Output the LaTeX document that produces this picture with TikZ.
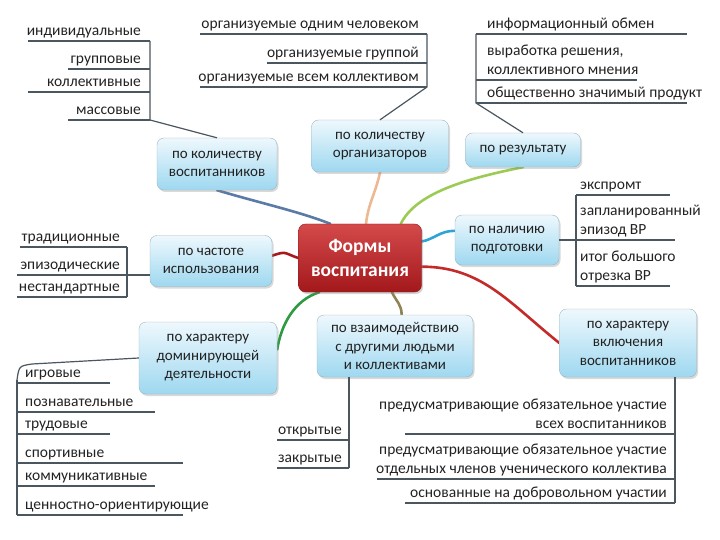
\documentclass[tikz,border=0pt]{standalone}
\usepackage{fontspec}
\setmainfont{Carlito}
\usetikzlibrary{shadows}
\pgfdeclarelayer{bg}
\pgfsetlayers{bg,main}

\definecolor{boxtop}{HTML}{EEF8FD}
\definecolor{boxbot}{HTML}{9ED8F0}
\definecolor{boxline}{HTML}{9DB4C0}
\definecolor{hubtop}{HTML}{D4494A}
\definecolor{hubbot}{HTML}{A3181B}
\definecolor{hubline}{HTML}{8A1A1A}
\definecolor{ruleline}{HTML}{4A5660}
\definecolor{txt}{HTML}{222222}
\definecolor{steel}{HTML}{5A7BA6}
\definecolor{peach}{HTML}{EDB894}
\definecolor{lgreen}{HTML}{9CCB55}
\definecolor{sky}{HTML}{2FA3D6}
\definecolor{dkred}{HTML}{A8191B}
\definecolor{brred}{HTML}{C42A2A}
\definecolor{olive}{HTML}{8F8456}
\definecolor{dgreen}{HTML}{2E9B43}

\newcommand\boxfont{\fontsize{15}{18.5}\selectfont}
\newcommand\itemfont{\fontsize{15.5}{19}\selectfont}
\newcommand\hubfont{\fontsize{19.5}{24}\selectfont\bfseries}

\begin{document}
\begin{tikzpicture}[x=1pt,y=-1pt,
    catbox/.style={draw=boxline, rounded corners=7pt, top color=boxtop,
        bottom color=boxbot, align=center, text=txt, font=\boxfont, inner sep=2pt,
        drop shadow={shadow xshift=1.5pt, shadow yshift=-2pt, opacity=.3}},
    hubbox/.style={draw=hubline, rounded corners=7pt, top color=hubtop,
        bottom color=hubbot, align=center, text=white, font=\hubfont, inner sep=2pt,
        drop shadow={shadow xshift=1.5pt, shadow yshift=-2pt, opacity=.35}},
    entry/.style={inner sep=0pt, text=txt, font=\itemfont, text depth=4pt},
    rule/.style={draw=ruleline, line width=1.2pt},
    branch/.style={line width=2.6pt, line cap=round}]
    \useasboundingbox (0,0) rectangle (720,540);

    % category boxes
    \draw (360,258) node (hub) [hubbox,minimum width=123,minimum height=68] {Формы\\воспитания};
    \draw (217,164) node (vosp) [catbox,minimum width=120,minimum height=52] {по количеству\\воспитанников};
    \draw (380,146) node (org) [catbox,minimum width=137,minimum height=52] {по количеству\\организаторов};
    \draw (523,150) node (res) [catbox,minimum width=115,minimum height=34] {по результату};
    \draw (507,240) node (prep) [catbox,minimum width=104,minimum height=50] {по наличию\\подготовки};
    \draw (628,343) node (incl) [catbox,minimum width=137,minimum height=68] {по характеру\\включения\\воспитанников};
    \draw (395,346) node (inter) [catbox,minimum width=156,minimum height=62] {по взаимодействию\\с другими людьми\\и коллективами};
    \draw (211,261) node (freq) [catbox,minimum width=122,minimum height=51] {по частоте\\использования};
    \draw (208,358) node (dom) [catbox,minimum width=138,minimum height=72] {по характеру\\доминирующей\\деятельности};

    % coloured branches from the hub
    \begin{pgfonlayer}{bg}
    \draw[branch,steel] (vosp.south) .. controls +(40,12) and +(-30,-12) .. (hub.131);
    \draw[branch,peach] (org.south) .. controls +(-4,20) and +(2,-20) .. (hub.80);
    \draw[branch,lgreen] (res.south) .. controls +(-60,12) and +(15,-30) .. (hub.40);
    \draw[branch,sky] (hub.15) .. controls +(12,-2) and +(-15,0) .. (prep.170);
    \draw[branch,dkred] (freq.5) .. controls +(15,-5) and +(-15,-5) .. (hub.west);
    \draw[branch,brred] (hub.-8) .. controls +(60,0) and +(-50,-40) .. (incl.west);
    \draw[branch,olive] (hub.-47) .. controls +(5,10) and +(0,-10) .. (inter.78);
    \draw[branch,dgreen] (hub.220) .. controls +(-25,8) and +(4,-25) .. (dom.7);
    \end{pgfonlayer}

    % по количеству воспитанников
    \draw (141,40) node (a1) [entry,anchor=south east] {индивидуальные};
    \draw (141,68) node (a2) [entry,anchor=south east] {групповые};
    \draw (141,91) node (a3) [entry,anchor=south east] {коллективные};
    \draw (141,119) node (a4) [entry,anchor=south east] {массовые};
    \coordinate (a0) at (150,120);
    \draw[rule] (28,41) -- (150,41) (68,69) -- (150,69) (28,92) -- (150,92) (68,120) -- (a0);
    \draw[rule] (150,41) -- (a0) -- (vosp.north);

    % по количеству организаторов
    \draw (419,33) node (b1) [entry,anchor=south east] {организуемые одним человеком};
    \draw (419,62) node (b2) [entry,anchor=south east] {организуемые группой};
    \draw (419,86) node (b3) [entry,anchor=south east] {организуемые всем коллективом};
    \coordinate (b0) at (427,87);
    \draw[rule] (200,34) -- (427,34) (267,63) -- (427,63) (200,87) -- (b0);
    \draw[rule] (427,34) -- (b0) -- (org.north);

    % по результату
    \draw (487,33) node (c1) [entry,anchor=south west] {информационный обмен};
    \draw (487,79) node (c2) [entry,anchor=south west,align=left] {выработка решения,\\коллективного мнения};
    \draw (487,102) node (c3) [entry,anchor=south west] {общественно значимый продукт};
    \coordinate (c0) at (476,103);
    \draw[rule] (476,34) -- (687,34) (476,80) -- (637,80) (c0) -- (687,103);
    \draw[rule] (476,34) -- (c0) -- (res.north);

    % по наличию подготовки
    \draw (580,194) node (d1) [entry,anchor=south west] {экспромт};
    \draw (580,239) node (d2) [entry,anchor=south west,align=left] {запланированный\\эпизод ВР};
    \draw (580,285) node (d3) [entry,anchor=south west,align=left] {итог большого\\отрезка ВР};
    \coordinate (d0) at (576,240);
    \draw[rule] (576,195) -- (670,195) (d0) -- (675,240) (576,286) -- (670,286);
    \draw[rule] (576,195) -- (576,286) (prep.east) -- (d0);

    % по характеру включения воспитанников
    \draw (667,433) node (e1) [entry,anchor=south east,align=right] {предусматривающие обязательное участие\\всех воспитанников};
    \draw (667,478) node (e2) [entry,anchor=south east,align=right] {предусматривающие обязательное участие\\отдельных членов ученического коллектива};
    \draw (667,502) node (e3) [entry,anchor=south east] {основанные на добровольном участии};
    \coordinate (e0) at (675,503);
    \draw[rule] (405,434) -- (675,434) (377,479) -- (675,479) (405,503) -- (e0);
    \draw[rule] (incl.south -| e0) -- (e0);

    % по взаимодействию
    \draw (342,439) node (f1) [entry,anchor=south east] {открытые};
    \draw (342,467) node (f2) [entry,anchor=south east] {закрытые};
    \coordinate (f0) at (349,468);
    \draw[rule] (277,440) -- (349,440) (277,468) -- (f0);
    \draw[rule] (inter.south -| f0) -- (f0);

    % по частоте использования
    \draw (120,246) node (g1) [entry,anchor=south east] {традиционные};
    \draw (120,274) node (g2) [entry,anchor=south east] {эпизодические};
    \draw (120,296) node (g3) [entry,anchor=south east] {нестандартные};
    \coordinate (g0) at (127,275);
    \draw[rule] (20,247) -- (127,247) (17,275) -- (g0) (17,297) -- (127,297);
    \draw[rule] (127,247) -- (127,297) (g0) -- (g0 -| freq.west);

    % по характеру доминирующей деятельности
    \draw (25,382) node (h1) [entry,anchor=south west] {игровые};
    \draw (25,411) node (h2) [entry,anchor=south west] {познавательные};
    \draw (25,433) node (h3) [entry,anchor=south west] {трудовые};
    \draw (25,462) node (h4) [entry,anchor=south west] {спортивные};
    \draw (25,485) node (h5) [entry,anchor=south west] {коммуникативные};
    \draw (25,514) node (h6) [entry,anchor=south west] {ценностно-ориентирующие};
    \coordinate (h0) at (17,380);
    \draw[rule] (17,383) -- (110,383) (17,412) -- (155,412) (17,434) -- (110,434)
        (17,463) -- (183,463) (17,486) -- (155,486) (17,515) -- (183,515);
    \draw[rule] (h0) -- (17,515);
    \draw[rule] (dom.west) -- (32,364) .. controls (19,366) .. (h0);
\end{tikzpicture}
\end{document}
